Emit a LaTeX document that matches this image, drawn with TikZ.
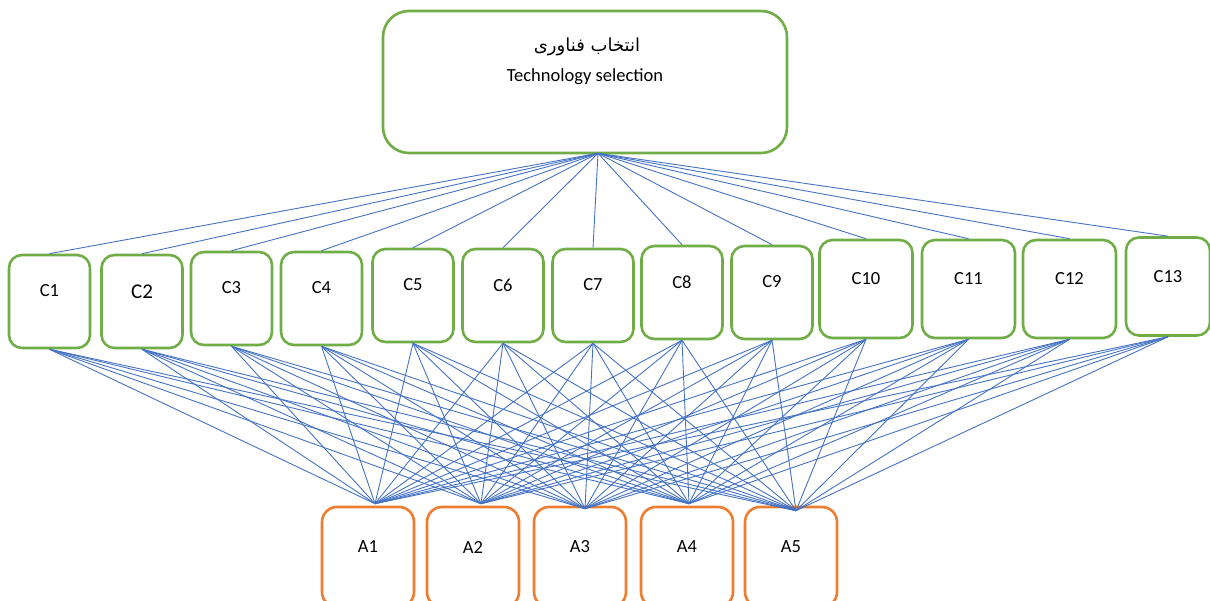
\documentclass[tikz,border=0pt]{standalone}
\usepackage{fontspec}
\setmainfont{Carlito}
\newfontfamily\farsifont[Script=Arabic]{DejaVu Sans}
\TeXXeTstate=1
\definecolor{boxgreen}{HTML}{70AD47}
\definecolor{boxorange}{HTML}{ED7D31}
\definecolor{linkblue}{HTML}{4472C4}
\begin{document}
\begin{tikzpicture}[x=1pt,y=-1pt,
  cbox/.style={draw=boxgreen, line width=2.6pt, rounded corners=13pt, minimum width=81pt, minimum height=93pt, inner sep=0pt, fill=white},
  cboxw/.style={cbox, minimum width=93pt, minimum height=98pt},
  abox/.style={draw=boxorange, line width=2.6pt, rounded corners=15pt, minimum width=92pt, minimum height=100pt, inner sep=0pt, fill=white},
  topbox/.style={draw=boxgreen, line width=2.6pt, rounded corners=26pt, minimum width=404pt, minimum height=142pt, inner sep=0pt, fill=white},
  lab/.style={font=\fontsize{18.5}{22}\selectfont, inner sep=0pt},
  link/.style={draw=linkblue, line width=0.9pt}
]
\useasboundingbox (0,0) rectangle (1210,601);
\clip (0,0) rectangle (1210,601);

% top box
\node[topbox, label={[font=\fontsize{18}{21}\selectfont\farsifont, inner sep=0pt, xshift=2pt, yshift=35pt]center:\beginR انتخاب فناوری\endR},
  label={[lab, yshift=5pt]center:Technology selection}] (top) at (585,82) {};
\coordinate (hub) at ([xshift=13pt,yshift=1pt]top.south);

% criteria
\node[cbox, label={[lab, yshift=11pt]center:C1}] (c1) at (49.5,301.5) {};
\node[cbox, label={[lab, font=\fontsize{21}{25}\selectfont, yshift=10pt]center:C2}] (c2) at (142,301.5) {};
\node[cbox, label={[lab, yshift=10.5pt]center:C3}] (c3) at (231.5,298.5) {};
\node[cbox, label={[lab, yshift=10.5pt]center:C4}] (c4) at (321.5,298.5) {};
\node[cbox, label={[lab, yshift=10.5pt]center:C5}] (c5) at (413,295.5) {};
\node[cbox, label={[lab, yshift=10.5pt]center:C6}] (c6) at (503,295.5) {};
\node[cbox, label={[lab, yshift=10.5pt]center:C7}] (c7) at (593,295.5) {};
\node[cbox, label={[lab, yshift=10.5pt]center:C8}] (c8) at (682,292.5) {};
\node[cbox, label={[lab, yshift=10.5pt]center:C9}] (c9) at (772,292.5) {};
\node[cboxw, label={[lab, yshift=10pt]center:C10}] (c10) at (866,289) {};
\node[cboxw, label={[lab, yshift=10pt]center:C11}] (c11) at (968.5,289) {};
\node[cboxw, label={[lab, yshift=10pt]center:C12}] (c12) at (1069.5,289) {};
\node[cboxw, minimum width=84pt, label={[lab, yshift=9.5pt]center:C13}] (c13) at (1168,286.5) {};

% alternatives
\node[abox, label={[lab, yshift=10pt]center:A1}] (a1) at (368,557) {};
\node[abox, label={[lab, yshift=10pt]center:A2}] (a2) at (473,557) {};
\node[abox, label={[lab, yshift=10pt]center:A3}] (a3) at (580,557) {};
\node[abox, label={[lab, yshift=10pt]center:A4}] (a4) at (687,557) {};
\node[abox, label={[lab, yshift=10pt]center:A5}] (a5) at (791,557) {};

\coordinate (a1t) at ([xshift=7pt,yshift=2pt]a1.north);
\coordinate (a2t) at ([xshift=8pt,yshift=2pt]a2.north);
\coordinate (a3t) at ([xshift=5pt,yshift=-3pt]a3.north);
\coordinate (a4t) at ([xshift=2pt,yshift=2pt]a4.north);
\coordinate (a5t) at ([xshift=5pt,yshift=-5pt]a5.north);

% links
\foreach \c in {1,...,13} {
  \draw[link] (hub) -- (c\c.north);
  \foreach \a in {1,...,5} {
    \draw[link] (c\c.south) -- (a\a t);
  }
}
\end{tikzpicture}
\end{document}
